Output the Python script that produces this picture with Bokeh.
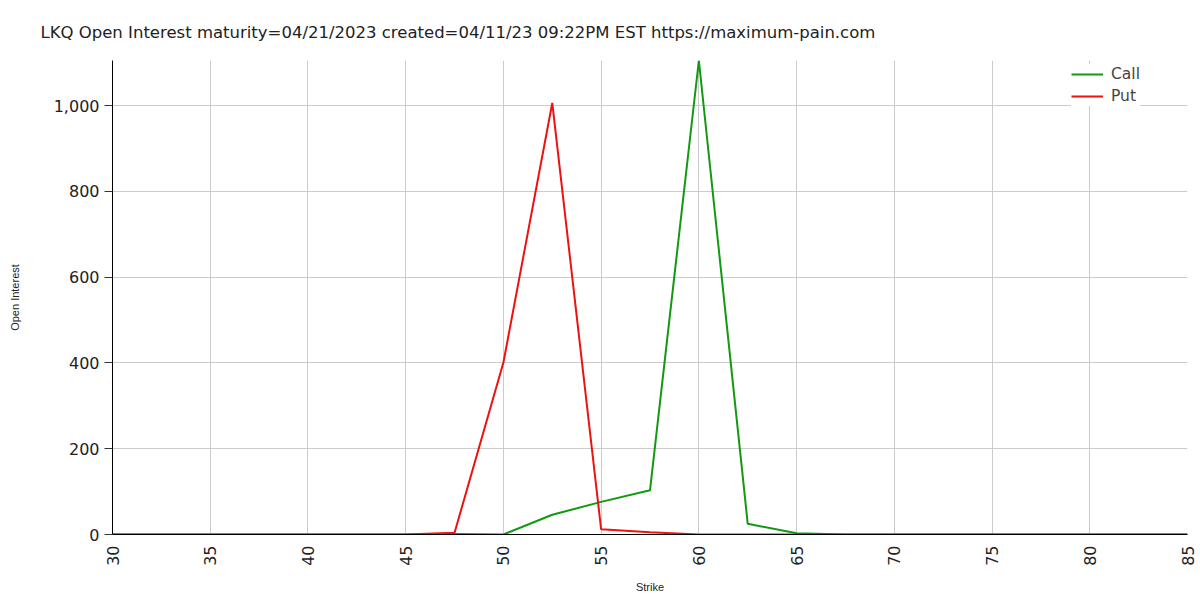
from bokeh.plotting import figure
from bokeh.models import NumeralTickFormatter, FixedTicker, Legend, LegendItem, Range1d, Title
from bokeh.embed import file_html
from bokeh.resources import INLINE
import math

strikes = [30, 32.5, 35, 37.5, 40, 42.5, 45, 47.5, 50, 52.5, 55, 57.5, 60,
           62.5, 65, 67.5, 70, 72.5, 75, 77.5, 80, 82.5, 85]
calls = [0, 0, 0, 0, 0, 0, 0, 1, 0, 46, 76, 103, 1105,
         25, 3, 0, 0, 0, 0, 0, 0, 0, 0]
puts = [0, 0, 0, 0, 0, 0, 0, 4, 401, 1006, 12, 5, 0,
        0, 0, 0, 0, 0, 0, 0, 0, 0, 0]
x_ticks = [30, 35, 40, 45, 50, 55, 60, 65, 70, 75, 80, 85]
y_ticks = [0, 200, 400, 600, 800, 1000]

title_text = "LKQ Open Interest maturity=04/21/2023 created=04/11/23 09:22PM EST https://maximum-pain.com"

p = figure(output_backend="svg", toolbar_location=None,
           x_range=Range1d(30, 85), y_range=Range1d(0, 1105),
           min_border_left=112, min_border_right=12, min_border_top=60, min_border_bottom=64,
           frame_width=1075, frame_height=474)
p.outline_line_color = None
p.background_fill_color = "white"

t = Title(text=title_text, align="left", offset=-72, standoff=37,
          text_font="DejaVu Sans", text_font_size="16.5px", text_font_style="normal",
          text_color="#222222")
p.add_layout(t, "above")

c = p.line(strikes, calls, line_color="#119911", line_width=2)
pu = p.line(strikes, puts, line_color="#ee1111", line_width=2)

legend = Legend(items=[LegendItem(label="Call", renderers=[c]),
                       LegendItem(label="Put", renderers=[pu])],
                location=(959, 428), border_line_color=None,
                background_fill_color="white", background_fill_alpha=1.0,
                label_text_font="DejaVu Sans", label_text_font_size="15.5px",
                glyph_width=32, spacing=2, margin=0, padding=4,
                label_standoff=8)
p.add_layout(legend)

p.xaxis.ticker = FixedTicker(ticks=x_ticks)
p.yaxis.ticker = FixedTicker(ticks=y_ticks)
p.yaxis.formatter = NumeralTickFormatter(format="0,0")
p.xaxis.major_label_orientation = math.pi / 2
for ax in (p.xaxis, p.yaxis):
    ax.axis_line_color = "black"
    ax.major_label_text_font = "DejaVu Sans"
    ax.major_label_text_font_size = "16px"
    ax.major_label_text_color = "#222222"
    ax.minor_tick_line_color = None
    ax.axis_label_text_font = "Liberation Sans"
    ax.axis_label_text_font_size = "11px"
    ax.axis_label_text_font_style = "normal"
    ax.axis_label_text_color = "#222222"
p.xaxis.major_tick_line_color = None
p.yaxis.major_tick_in = 0
p.yaxis.major_tick_out = 8
p.yaxis.major_tick_line_color = "#333333"
p.xaxis.axis_label = "Strike"
p.yaxis.axis_label = "Open Interest"
p.yaxis.axis_label_standoff = 30
p.xaxis.axis_label_standoff = 12
p.xgrid.grid_line_color = "#cccccc"
p.ygrid.grid_line_color = "#cccccc"

open("out.html", "w").write(file_html(p, INLINE))
